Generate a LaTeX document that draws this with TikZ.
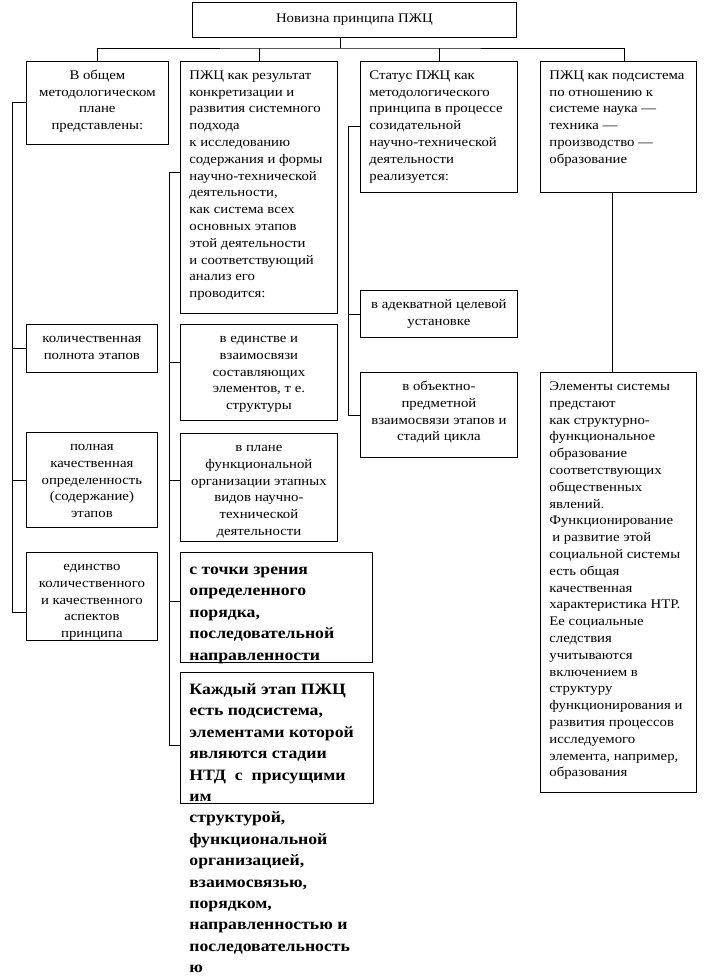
\documentclass[tikz,border=0pt]{standalone}
\usepackage{fontspec}
\setmainfont{Liberation Serif}[FakeStretch=1.12]
\usetikzlibrary{calc}
\tikzset{
  box/.style={draw, line width=0.8pt, inner sep=0pt, anchor=north west},
  link/.style={line width=0.8pt},
}
\newcommand\nf{\fontsize{13.2}{16.8}\selectfont}
\newcommand\bigbold{\fontsize{15.8}{21.4}\selectfont\bfseries}
\newcommand\lft{\raggedright\leftskip=9pt\relax\rightskip=-8pt plus 1fil\relax}
% name, x1, y1, x2, y2, format, first baseline, text
\newcommand\bx[8]{%
  \node[box] (#1) at (#2,#3) {\begin{minipage}[t][\dimexpr #5pt-#3pt\relax][t]{\dimexpr #4pt-#2pt\relax}#6\rule{0pt}{#7pt}#8\end{minipage}};}
\begin{document}
\begin{tikzpicture}[x=1pt,y=-1pt]
\useasboundingbox (0,0) rectangle (709,976);
\bx{top}{192}{2}{516}{37}{\nf\centering}{20}{Новизна принципа ПЖЦ}
\bx{c1}{26}{61}{168}{144}{\nf\centering}{18}{В общем\\методологическом\\плане\\представлены:}
\bx{c2}{180}{61}{337}{313}{\nf\lft}{18}{ПЖЦ как результат\\конкретизации и\\развития системного\\подхода\\к исследованию\\содержания и формы\\научно-технической\\деятельности,\\как система всех\\основных этапов\\этой деятельности\\и соответствующий\\анализ его\\проводится:}
\bx{c3}{360}{61}{517}{192}{\nf\lft}{18}{Статус ПЖЦ как\\методологического\\принципа в процессе\\созидательной\\научно-технической\\деятельности\\реализуется:}
\bx{c4}{540}{61}{696}{192}{\nf\lft}{18}{ПЖЦ как подсистема\\по отношению к\\системе наука —\\техника —\\производство —\\образование}
\bx{l1}{26}{324}{157}{372}{\nf\centering}{18}{количественная\\полнота этапов}
\bx{l2}{26}{432}{157}{527}{\nf\centering}{18}{полная\\качественная\\определенность\\(содержание)\\этапов}
\bx{l3}{26}{552}{157}{640}{\nf\centering}{18}{единство\\количественного\\и качественного\\аспектов\\принципа}
\bx{m1}{180}{324}{337}{420}{\nf\centering}{18}{в единстве и\\взаимосвязи\\составляющих\\элементов, т е.\\структуры}
\bx{m2}{180}{433}{337}{541}{\nf\centering}{18}{в плане\\функциональной\\организации этапных\\видов научно-\\технической\\деятельности}
\bx{m3}{180}{552}{372}{662}{\bigbold\lft}{22}{с точки зрения\\определенного\\порядка,\\последовательной\\направленности}
\bx{m4}{180}{672}{373}{803}{\bigbold\lft}{22}{Каждый этап ПЖЦ\\есть подсистема,\\элементами которой\\являются стадии\\НТД~~с~~присущими\\им\\структурой,\\функциональной\\организацией,\\взаимосвязью,\\порядком,\\направленностью и\\последовательность\\ю}
\bx{r1}{360}{290}{517}{337}{\nf\centering}{18}{в адекватной целевой\\установке}
\bx{r2}{360}{372}{517}{457}{\nf\centering}{18}{в объектно-\\предметной\\взаимосвязи этапов и\\стадий цикла}
\bx{r4}{540}{372}{696}{792}{\nf\lft}{18}{Элементы системы\\предстают\\как структурно-\\функциональное\\образование\\соответствующих\\общественных\\явлений.\\Функционирование\\\hspace*{3pt}и развитие этой\\социальной системы\\есть общая\\качественная\\характеристика НТР.\\Ее социальные\\следствия\\учитываются\\включением в\\структуру\\функционирования и\\развития процессов\\исследуемого\\элемента, например,\\образования}
% top tree
\coordinate (bus) at (340,48);
\coordinate (d4) at (624,0);
\draw[link] (top.south -| bus) -- (bus);
\draw[link] (c1.north) |- (bus) -| (c4.north -| d4);
\draw[link] (c2.north) -- (c2.north |- bus);
\draw[link] (c3.north) -- (c3.north |- bus);
% left bracket
\coordinate (lb) at (12,0);
\draw[link] (c1.west) -- (lb |- c1.west) -- (lb |- 0,612) -- (l3.west |- 0,612);
\draw[link] (lb |- l1.west) -- (l1.west);
\draw[link] (lb |- l2.west) -- (l2.west);
% middle bracket
\coordinate (mb) at (169,0);
\draw[link] (c2.west |- 0,172) -- (mb |- 0,172) -- (mb |- 0,745) -- (m4.west |- 0,745);
\draw[link] (mb |- 0,362) -- (m1.west |- 0,362);
\draw[link] (mb |- 0,480) -- (m2.west |- 0,480);
\draw[link] (mb |- 0,601) -- (m3.west |- 0,601);
% right bracket
\coordinate (rb) at (348,0);
\draw[link] (c3.west) -- (rb |- c3.west) -- (rb |- r2.west) -- (r2.west);
\draw[link] (rb |- r1.west) -- (r1.west);
% column 4
\draw[link] (c4.south -| 612,0) -- (r4.north -| 612,0);
\end{tikzpicture}
\end{document}
